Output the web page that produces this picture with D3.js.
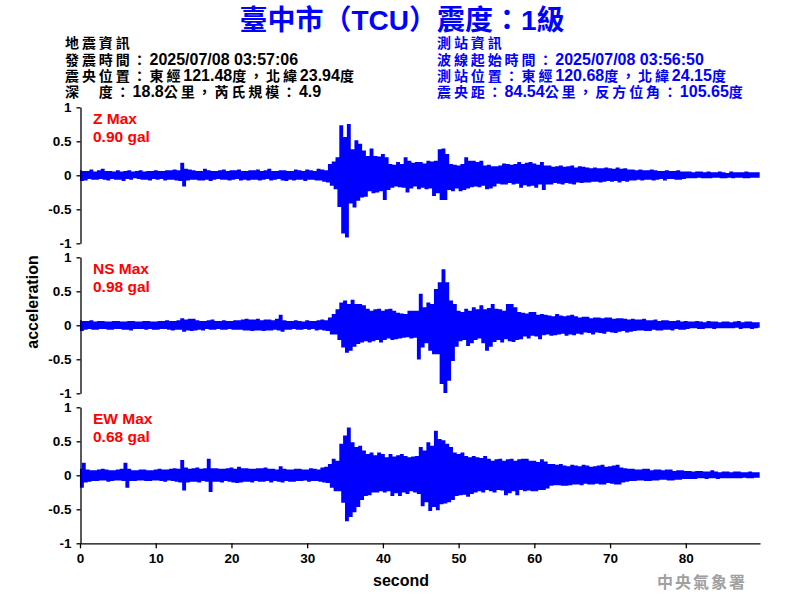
<!DOCTYPE html>
<html><head><meta charset="utf-8">
<script src="https://cdn.jsdelivr.net/npm/d3@7"></script>
<style>body{margin:0;background:#fff} svg{display:block}</style>
</head><body><svg id="c" width="800" height="600"></svg>
<script>
const titleText = "臺中市（TCU）震度：1級";
const quakeInfo = ["地震資訊","發震時間：2025/07/08 03:57:06","震央位置：東經121.48度，北緯23.94度","深　度：18.8公里，芮氏規模：4.9"];
const stationInfo = ["測站資訊","波線起始時間：2025/07/08 03:56:50","測站位置：東經120.68度，北緯24.15度","震央距：84.54公里，反方位角：105.65度"];
const channelNames = ["Z Max","NS Max","EW Max"];
const maxLabels = ["0.90 gal","0.98 gal","0.68 gal"];
const yTicks = [-1,-0.5,0,0.5,1];
const xTicks = [0,10,20,30,40,50,60,70,80];
const xDomain = [0, 89.8];
const sampleStep = 0.25; // seconds between read-off peaks

const zValues = [
.06,-.07,.05,-.06, .05,-.04,.07,-.05, .04,-.05,.06,-.04, .08,-.05,.05,-.06, .05,-.04,.04,-.05,
.06,-.05,.04,-.07, .05,-.04,.06,-.05, .04,-.03,.05,-.04, .06,-.05,.04,-.05, .05,-.06,.05,-.04,
.06,-.05,.05,-.04, .05,-.06,.06,-.05, .06,-.05,.07,-.06, .06,-.07,.17,-.15, .08,-.06,.07,-.05,
.06,-.05,.05,-.06, .05,-.06,.08,-.05, .06,-.07,.05,-.05, .05,-.04,.06,-.05, .07,-.05,.05,-.06,
.06,-.05,.06,-.04, .07,-.06,.05,-.05, .05,-.06,.06,-.05, .06,-.05,.07,-.06, .05,-.05,.06,-.04,
.08,-.06,.05,-.05, .05,-.04,.06,-.06, .06,-.07,.05,-.05, .05,-.06,.07,-.05, .06,-.05,.05,-.07,
.07,-.05,.06,-.05, .05,-.06,.08,-.06, .07,-.08,.06,-.09, .15,-.14,.19,-.19, .25,-.45,.72,-.84,
.55,-.90,.74,-.40, .37,-.46,.50,-.36, .45,-.31,.35,-.30, .27,-.22,.38,-.25, .27,-.24,.26,-.22,
.30,-.35,.25,-.20, .15,-.17,.14,-.15, .18,-.16,.15,-.17, .25,-.24,.20,-.18, .17,-.15,.18,-.19,
.18,-.17,.16,-.19, .20,-.18,.19,-.29, .20,-.25,.37,-.35, .38,-.35,.30,-.20, .15,-.22,.14,-.18,
.13,-.22,.15,-.20, .25,-.18,.20,-.16, .20,-.15,.18,-.16, .20,-.14,.13,-.19, .14,-.18,.12,-.15,
.12,-.11,.13,-.12, .16,-.12,.15,-.10, .14,-.12,.15,-.11, .18,-.17,.15,-.13, .17,-.15,.18,-.14,
.16,-.17,.14,-.12, .18,-.20,.13,-.12, .13,-.12,.11,-.10, .12,-.11,.13,-.12, .11,-.10,.12,-.11,
.13,-.12,.10,-.09, .12,-.10,.11,-.09, .10,-.09,.09,-.08, .10,-.08,.09,-.09, .09,-.08,.10,-.07,
.09,-.08,.08,-.07, .10,-.09,.08,-.07, .09,-.08,.07,-.06, .07,-.06,.06,-.05, .07,-.06,.06,-.05,
.06,-.05,.07,-.06, .06,-.05,.05,-.04, .05,-.06,.06,-.04, .05,-.04,.05,-.05, .06,-.05,.04,-.04,
.04,-.03,.04,-.03, .03,-.03,.04,-.02, .04,-.03,.03,-.03, .04,-.03,.03,-.02, .03,-.02,.04,-.03,
.03,-.03,.02,-.02, .04,-.03,.03,-.02, .03,-.02,.03,-.03, .04,-.03,.03,-.02, .03,-.02,.03,-.02];

const nsValues = [
.06,-.07,.05,-.05, .05,-.04,.06,-.05, .04,-.05,.05,-.04, .05,-.04,.04,-.05, .04,-.05,.05,-.04,
.05,-.04,.04,-.05, .04,-.05,.05,-.06, .05,-.04,.04,-.04, .04,-.04,.05,-.05, .05,-.04,.04,-.05,
.04,-.05,.05,-.04, .05,-.04,.06,-.05, .05,-.06,.05,-.05, .06,-.05,.09,-.08, .07,-.06,.08,-.07,
.08,-.06,.06,-.05, .05,-.06,.05,-.04, .06,-.05,.07,-.05, .05,-.04,.05,-.05, .06,-.05,.05,-.04,
.05,-.05,.06,-.05, .06,-.05,.07,-.06, .08,-.06,.07,-.07, .07,-.06,.08,-.06, .06,-.07,.07,-.06,
.07,-.06,.06,-.05, .08,-.06,.14,-.08, .06,-.05,.05,-.05, .05,-.04,.06,-.05, .05,-.05,.04,-.04,
.06,-.05,.05,-.04, .05,-.06,.06,-.05, .07,-.06,.06,-.07, .10,-.12,.15,-.12, .22,-.20,.32,-.31,
.35,-.39,.30,-.36, .36,-.30,.30,-.26, .30,-.24,.28,-.22, .23,-.24,.20,-.22, .22,-.20,.23,-.24,
.20,-.20,.22,-.18, .23,-.20,.20,-.19, .17,-.18,.16,-.17, .15,-.16,.20,-.18, .20,-.17,.20,-.49,
.45,-.31,.25,-.25, .32,-.36,.30,-.41, .52,-.41,.62,-.85, .81,-.98,.62,-.80, .35,-.51,.30,-.30,
.20,-.22,.18,-.20, .23,-.29,.20,-.25, .25,-.20,.22,-.18, .28,-.25,.22,-.36, .24,-.30,.30,-.23,
.23,-.20,.22,-.24, .20,-.19,.30,-.22, .30,-.23,.25,-.20, .18,-.19,.17,-.15, .16,-.18,.18,-.14,
.18,-.15,.14,-.19, .15,-.13,.14,-.12, .13,-.14,.12,-.13, .15,-.12,.13,-.11, .12,-.14,.13,-.12,
.14,-.13,.12,-.11, .10,-.12,.11,-.09, .11,-.10,.09,-.12, .10,-.09,.10,-.10, .09,-.11,.10,-.08,
.10,-.09,.08,-.10, .09,-.08,.09,-.07, .08,-.09,.07,-.08, .08,-.07,.07,-.06, .07,-.06,.08,-.07,
.06,-.07,.06,-.05, .07,-.06,.05,-.06, .06,-.05,.06,-.05, .05,-.06,.05,-.04, .06,-.05,.04,-.05,
.05,-.04,.04,-.03, .04,-.03,.05,-.04, .04,-.04,.03,-.03, .05,-.03,.04,-.04, .04,-.03,.03,-.03,
.04,-.03,.04,-.03, .03,-.03,.04,-.02, .05,-.04,.03,-.03, .04,-.03,.04,-.04, .03,-.03,.03,-.02];

const ewValues = [
.08,-.17,.17,-.09, .07,-.08,.06,-.07, .06,-.07,.07,-.06, .08,-.06,.07,-.08, .06,-.07,.06,-.06,
.07,-.06,.08,-.07, .17,-.17,.08,-.07, .06,-.07,.06,-.06, .07,-.06,.07,-.07, .06,-.07,.06,-.06,
.07,-.06,.08,-.07, .07,-.08,.07,-.06, .08,-.07,.09,-.08, .08,-.09,.21,-.21, .10,-.09,.08,-.08,
.09,-.08,.10,-.09, .08,-.07,.09,-.08, .23,-.23,.09,-.08, .09,-.08,.08,-.09, .08,-.07,.09,-.08,
.10,-.09,.08,-.10, .11,-.09,.09,-.08, .09,-.08,.08,-.09, .08,-.07,.09,-.08, .09,-.08,.10,-.07,
.08,-.09,.08,-.07, .07,-.08,.12,-.09, .08,-.07,.07,-.08, .07,-.08,.08,-.07, .08,-.07,.07,-.06,
.07,-.08,.09,-.07, .08,-.07,.07,-.08, .10,-.09,.11,-.10, .15,-.17,.23,-.22, .20,-.22,.45,-.39,
.57,-.66,.69,-.60, .47,-.53,.40,-.45, .42,-.35,.35,-.29, .30,-.28,.32,-.24, .28,-.24,.32,-.22,
.30,-.24,.25,-.22, .30,-.29,.26,-.25, .28,-.29,.30,-.24, .27,-.26,.25,-.22, .26,-.24,.27,-.26,
.40,-.44,.35,-.38, .47,-.51,.42,-.45, .64,-.50,.52,-.41, .50,-.40,.45,-.38, .40,-.35,.32,-.29,
.30,-.28,.32,-.27, .27,-.30,.25,-.26, .27,-.24,.25,-.22, .24,-.24,.27,-.20, .23,-.22,.20,-.24,
.22,-.20,.23,-.21, .20,-.28,.22,-.25, .23,-.22,.20,-.28, .22,-.20,.23,-.22, .23,-.21,.20,-.22,
.20,-.22,.18,-.20, .22,-.20,.19,-.18, .15,-.14,.15,-.13, .14,-.13,.15,-.14, .13,-.14,.12,-.13,
.14,-.12,.13,-.12, .12,-.13,.14,-.11, .13,-.12,.11,-.12, .12,-.11,.13,-.12, .14,-.12,.11,-.10,
.12,-.11,.13,-.12, .14,-.12,.10,-.09, .09,-.08,.08,-.07, .08,-.07,.07,-.06, .07,-.06,.08,-.07,
.08,-.07,.06,-.06, .07,-.06,.07,-.05, .06,-.05,.07,-.06, .07,-.06,.05,-.05, .06,-.05,.06,-.04,
.05,-.04,.05,-.04, .04,-.04,.05,-.03, .05,-.03,.04,-.04, .04,-.03,.06,-.03, .04,-.04,.03,-.03,
.04,-.03,.04,-.03, .03,-.03,.04,-.03, .04,-.03,.03,-.02, .03,-.03,.04,-.03, .03,-.02,.03,-.02];

const series = [zValues, nsValues, ewValues];

const svg = d3.select("#c");
const latin = "'Liberation Sans', Arial, 'Noto Sans CJK TC', sans-serif";
const cjkFont = "'Noto Sans CJK TC', sans-serif";
const blue = "#0000ff";

const x = d3.scaleLinear().domain(xDomain).range([80, 760]);
const panelTops = [107.3, 257.3, 407.3];
const panelH = 136;
const fmt = d => String(d);
const cjkRe = /[\u3000-\u9fff\uff00-\uffef]/;

function mixedText(str, px, py, color) {
  const t = svg.append("text").attr("x", px).attr("y", py).attr("fill", color)
    .attr("font-weight", "bold").attr("font-family", latin).attr("font-size", 16);
  const runs = str.match(/[\u3000-\u9fff\uff00-\uffef]+|[^\u3000-\u9fff\uff00-\uffef]+/g);
  runs.forEach(r => {
    const isCjk = cjkRe.test(r);
    t.append("tspan")
      .attr("font-size", isCjk ? 14 : 16)
      .attr("letter-spacing", isCjk ? 2.9 : 0)
      .text(r);
  });
}

// Title
svg.append("text").attr("x", 402).attr("y", 30).attr("text-anchor", "middle")
  .attr("font-family", latin).attr("font-size", 28).attr("font-weight", "bold")
  .attr("fill", blue).text(titleText);

// Info blocks
quakeInfo.forEach((t, i) => mixedText(t, 65, 48.3 + i * 16.35, "#000"));
stationInfo.forEach((t, i) => mixedText(t, 437, 48.3 + i * 16.35, blue));

series.forEach((vals, k) => {
  const top = panelTops[k];
  const y = d3.scaleLinear().domain([-1, 1]).range([top + panelH, top]);
  const g = svg.append("g");
  // waveform
  const line = d3.line().x((d, i) => x(i * sampleStep)).y(d => y(d)).curve(d3.curveStep);
  g.append("path").datum(vals).attr("d", line)
    .attr("fill", "none").attr("stroke", blue).attr("stroke-width", 2);
  // y axis
  const ya = g.append("g").attr("transform", "translate(80.5,0)")
    .call(d3.axisLeft(y).tickValues(yTicks).tickFormat(fmt).tickSize(4).tickSizeOuter(0).tickPadding(5));
  ya.selectAll("text").attr("font-family", latin).attr("font-size", 13.5).attr("font-weight", "bold").attr("fill", "#000");
  ya.select(".domain").attr("stroke", "#000").attr("stroke-width", 1.3);
  ya.selectAll(".tick line").attr("stroke", "#000").attr("stroke-width", 1.3);
  // labels
  g.append("text").attr("x", 93).attr("y", top + 16.2).attr("font-family", latin)
    .attr("font-size", 15.5).attr("font-weight", "bold").attr("fill", "#ff0000").text(channelNames[k]);
  g.append("text").attr("x", 93).attr("y", top + 35).attr("font-family", latin)
    .attr("font-size", 15.5).attr("font-weight", "bold").attr("fill", "#ff0000").text(maxLabels[k]);
  if (k === 2) {
    const xa = g.append("g").attr("transform", `translate(0,${top + panelH})`)
      .call(d3.axisBottom(x).tickValues(xTicks).tickFormat(fmt).tickSize(5).tickSizeOuter(0).tickPadding(5));
    xa.selectAll("text").attr("font-family", latin).attr("font-size", 13.5).attr("font-weight", "bold").attr("fill", "#000");
    xa.select(".domain").attr("stroke", "#000").attr("stroke-width", 1.3);
    xa.selectAll(".tick line").attr("stroke", "#000").attr("stroke-width", 1.3);
  }
});

// axis titles
svg.append("text").attr("transform", "translate(38,302) rotate(-90)").attr("text-anchor", "middle")
  .attr("font-family", latin).attr("font-size", 16).attr("font-weight", "bold").attr("fill", "#000").text("acceleration");
svg.append("text").attr("x", 401).attr("y", 586).attr("text-anchor", "middle")
  .attr("font-family", latin).attr("font-size", 16).attr("font-weight", "bold").attr("fill", "#000").text("second");

// watermark
svg.append("text").attr("x", 657).attr("y", 588).attr("font-family", cjkFont)
  .attr("font-size", 16).attr("font-weight", "bold").attr("letter-spacing", 2).attr("fill", "#a0a0a0").text("中央氣象署");
</script></body></html>
